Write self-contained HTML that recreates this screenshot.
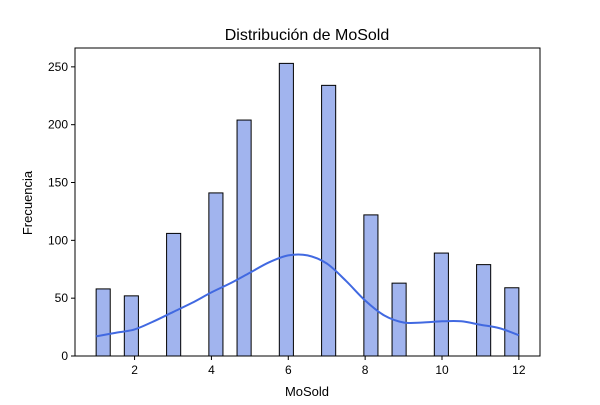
<!DOCTYPE html>
<html><head><meta charset="utf-8">
<style>
body{margin:0;background:#fff;}
svg text{font-family:"Liberation Sans","DejaVu Sans",sans-serif;fill:#000;}
</style></head>
<body>
<svg id="chart" width="600" height="400" xmlns="http://www.w3.org/2000/svg">
<rect width="600" height="400" fill="#fff"/>
<text x="307" y="40" font-size="16" text-anchor="middle">Distribución de MoSold</text>
<text x="307" y="396" font-size="13" text-anchor="middle">MoSold</text>
<text transform="translate(32,203) rotate(-90)" font-size="13" text-anchor="middle">Frecuencia</text>
<g id="bars"></g>
<path id="kde" fill="none" stroke="#4169e1" stroke-width="2"/>
<g id="axes"></g>
<rect x="75" y="48" width="465" height="308" fill="none" stroke="#000" stroke-width="1"/>
</svg>
<script>
const months=[1,2,3,4,5,6,7,8,9,10,11,12];
const counts=[58,52,106,141,204,253,234,122,63,89,79,59];
const kdeX=[1,1.5,2,2.5,3,3.5,4,4.5,5,5.5,6,6.5,7,7.5,8,8.5,9,9.5,10,10.5,11,11.5,12];
const kdeY=[17,20,23,30,38,46,55,63,72,81,87,87,80,65,48,35,29,29,30,30,27,24,18];
const xTicks=[2,4,6,8,10,12];
const yTicks=[0,50,100,150,200,250];
const binCount=30;
const xMin=0.45,xMax=12.55,yMax=266.3;
const L=75,R=540,T=48,B=356;
function sx(v){return L+(v-xMin)/(xMax-xMin)*(R-L);}
function sy(v){return B-v/yMax*(B-T);}
const ns="http://www.w3.org/2000/svg";
const bars=document.getElementById('bars');
const bw=(12-1)/binCount;
months.forEach((m,i)=>{
  let k=Math.min(binCount-1,Math.floor((m-1)/bw+1e-9));
  const x0=1+k*bw,x1=x0+bw;
  const r=document.createElementNS(ns,'rect');
  r.setAttribute('x',sx(x0));r.setAttribute('width',sx(x1)-sx(x0));
  r.setAttribute('y',sy(counts[i]));r.setAttribute('height',sy(0)-sy(counts[i]));
  r.setAttribute('fill','#a1b4ee');r.setAttribute('stroke','#000');r.setAttribute('stroke-width','1');
  
  
  bars.appendChild(r);
});
let d='';
const pts=kdeX.map((x,i)=>[sx(x),sy(kdeY[i])]);
d='M'+pts[0][0]+','+pts[0][1];
for(let i=0;i<pts.length-1;i++){
  const p0=pts[Math.max(0,i-1)],p1=pts[i],p2=pts[i+1],p3=pts[Math.min(pts.length-1,i+2)];
  const c1=[p1[0]+(p2[0]-p0[0])/6,p1[1]+(p2[1]-p0[1])/6];
  const c2=[p2[0]-(p3[0]-p1[0])/6,p2[1]-(p3[1]-p1[1])/6];
  d+=' C'+c1+' '+c2+' '+p2;
}
document.getElementById('kde').setAttribute('d',d);
const ax=document.getElementById('axes');
xTicks.forEach(t=>{
  const l=document.createElementNS(ns,'line');
  l.setAttribute('x1',sx(t));l.setAttribute('x2',sx(t));l.setAttribute('y1',B);l.setAttribute('y2',B+4);l.setAttribute('stroke','#000');
  
  
  ax.appendChild(l);
  const tx=document.createElementNS(ns,'text');
  tx.setAttribute('x',sx(t));tx.setAttribute('y',B+18);tx.setAttribute('font-size','12');tx.setAttribute('text-anchor','middle');
  tx.textContent=t;
  
  
  ax.appendChild(tx);
});
yTicks.forEach(t=>{
  const l=document.createElementNS(ns,'line');
  l.setAttribute('x1',L-4);l.setAttribute('x2',L);l.setAttribute('y1',sy(t));l.setAttribute('y2',sy(t));l.setAttribute('stroke','#000');
  
  
  ax.appendChild(l);
  const tx=document.createElementNS(ns,'text');
  tx.setAttribute('x',L-7);tx.setAttribute('y',sy(t)+4);tx.setAttribute('font-size','12');tx.setAttribute('text-anchor','end');
  tx.textContent=t;
  
  
  ax.appendChild(tx);
});
</script>
</body></html>
